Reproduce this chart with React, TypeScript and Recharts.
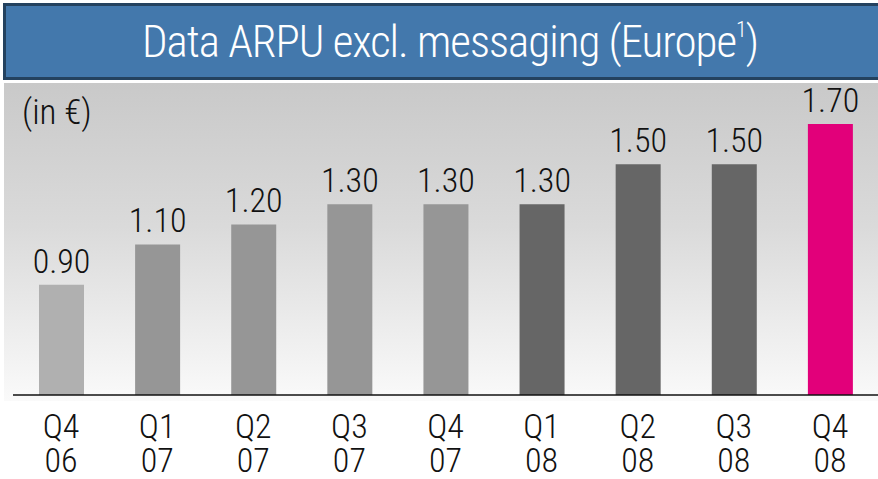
import { BarChart, Bar, XAxis, YAxis, Cell, LabelList } from "recharts";

const quarters = ["Q4", "Q1", "Q2", "Q3", "Q4", "Q1", "Q2", "Q3", "Q4"];
const years = ["06", "07", "07", "07", "07", "08", "08", "08", "08"];
const arpu = [0.9, 1.1, 1.2, 1.3, 1.3, 1.3, 1.5, 1.5, 1.7];
const barColors = [
  "#b0b0b0",
  "#969696",
  "#969696",
  "#969696",
  "#969696",
  "#666666",
  "#666666",
  "#666666",
  "#e2007a",
];

const data = quarters.map((q, i) => ({
  name: `${q} ${years[i]}`,
  quarter: q,
  year: years[i],
  value: arpu[i],
}));

const FONT = "'Liberation Sans Narrow', 'Arial Narrow', 'Roboto Condensed', 'Liberation Sans', sans-serif";

const QuarterTick = (props: any) => {
  const { x, y, index } = props;
  return (
    <g>
      <text x={x} y={y + 35} textAnchor="middle" fontFamily={FONT} fontSize={34} fontWeight={300} fill="#111">
        {quarters[index]}
      </text>
      <text x={x} y={y + 69} textAnchor="middle" fontFamily={FONT} fontSize={34} fontWeight={300} fill="#111">
        {years[index]}
      </text>
    </g>
  );
};

const App = () => {
  return (
    <div style={{ position: "absolute", left: 0, top: 0, width: 878, height: 479, background: "#fff", overflow: "hidden" }}>
      {/* grey gradient panel */}
      <div
        style={{
          position: "absolute",
          left: 4,
          top: 83,
          width: 874,
          height: 318,
          background: "linear-gradient(to bottom, #c9c9c9 0%, #dadada 45%, #fafafa 100%)",
        }}
      />
      {/* title bar */}
      <div
        style={{
          position: "absolute",
          left: 3,
          top: 3,
          width: 878,
          height: 77,
          boxSizing: "border-box",
          background: "#4378ac",
          border: "3px solid #24425f",
          color: "#fff",
          fontFamily: FONT,
          fontSize: 45,
          fontWeight: 300,
          letterSpacing: -1,
          lineHeight: "71px",
          textAlign: "center",
          paddingLeft: 16,
        }}
      >
        Data ARPU excl. messaging (Europe<sup style={{ fontSize: 22, verticalAlign: "20px", lineHeight: 0 }}>1</sup>)
      </div>
      <div
        style={{
          position: "absolute",
          left: 22,
          top: 92,
          fontFamily: FONT,
          fontSize: 35,
          fontWeight: 300,
          color: "#111",
        }}
      >
        (in €)
      </div>
      <div style={{ position: "absolute", left: 0, top: 0 }}>
        <BarChart
          width={878}
          height={479}
          data={data}
          margin={{ top: 100, right: 0, bottom: 54, left: 13 }}
          barSize={45}
        >
          <YAxis hide domain={[0.35, 1.82]} allowDataOverflow />
          <XAxis
            dataKey="name"
            axisLine={{ stroke: "#111", strokeWidth: 1.5 }}
            tickLine={false}
            tick={<QuarterTick />}
            interval={0}
          />
          <Bar dataKey="value" isAnimationActive={false}>
            {data.map((d, i) => (
              <Cell key={d.name + i} fill={barColors[i]} />
            ))}
            <LabelList
              dataKey="value"
              position="top"
              offset={12}
              formatter={(v: number) => v.toFixed(2)}
              style={{ fontFamily: FONT, fontSize: 34, fontWeight: 300, fill: "#111" }}
            />
          </Bar>
        </BarChart>
      </div>
    </div>
  );
};

export default App;
